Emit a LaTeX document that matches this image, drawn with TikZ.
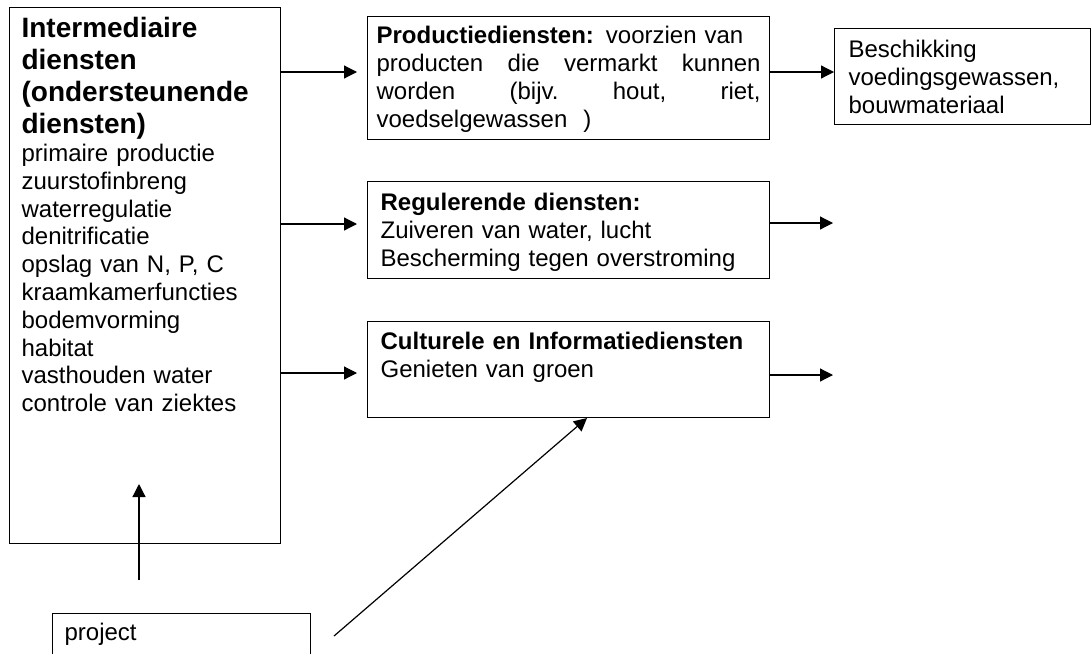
\documentclass[tikz,border=0pt]{standalone}
\usepackage{fontspec}
\setmainfont{Liberation Sans}
\usetikzlibrary{arrows.meta}

\begin{document}
\begin{tikzpicture}[
  x=0.5pt, y=-0.5pt,
  svcbox/.style={draw, line width=0.6pt, anchor=north west, inner ysep=0pt,
                 align=left, font=\fontsize{12}{13.9}\selectfont},
  flow/.style={-{Triangle[length=6.5pt, width=6.5pt]}, line width=0.6pt}
]
\path[use as bounding box, clip] (0,0) rectangle (1091,653);
\node[svcbox, inner xsep=6pt, text width=123.5pt, text height=15pt, text depth=253pt] (inter) at (9,7)
  {{\fontsize{14}{16}\selectfont\bfseries Intermediaire\\ diensten\\ (ondersteunende\\ diensten)\par}
   primaire productie\\ zuurstofinbreng\\ waterregulatie\\ denitrificatie\\ opslag van N, P, C\\
   kraamkamerfuncties\\ bodemvorming\\ habitat\\ vasthouden water\\ controle van ziektes};
\node[svcbox, inner xsep=4.5pt, text width=192pt, text height=13.5pt, text depth=47.75pt] (prod) at (367,16)
  {\textbf{Productiediensten:} voorzien van\\
   \makebox[192pt][s]{producten\hfill die\hfill vermarkt\hfill kunnen}\\
   \makebox[192pt][s]{worden\hfill (bijv.\hfill hout,\hfill riet,}\\
   voedselgewassen~~)};
\node[svcbox, inner xsep=7pt, text width=114pt, text height=14.5pt, text depth=33.5pt] (besch) at (834,28)
  {Beschikking\\ voedingsgewassen,\\ bouwmateriaal};
\node[svcbox, inner xsep=6.5pt, text width=188pt, text height=14.5pt, text depth=34pt] (reg) at (367,181)
  {\textbf{Regulerende diensten:}\\ Zuiveren van water, lucht\\ Bescherming tegen overstroming};
\node[svcbox, inner xsep=6.5pt, text width=188pt, text height=14pt, text depth=34pt] (cult) at (367,321)
  {\textbf{Culturele en Informatiediensten}\\ Genieten van groen};
\node[svcbox, inner xsep=6pt, text width=117pt, text height=13.5pt, text depth=12pt] (proj) at (52,613)
  {project};
\coordinate (prodrow) at (0,72);
\coordinate (regrow)  at (0,224);
\coordinate (cultrow) at (0,373);
\coordinate (regout)  at (833,223);
\coordinate (cultout) at (833,375);
\coordinate (projup)  at (139,580);
\coordinate (interup) at (139,484);
\coordinate (projdiag) at (334,636);
\coordinate (culttip)  at (587,418);
\draw[flow, shorten >=5pt] (inter.east |- prodrow) -- (prod.west |- prodrow);
\draw[flow, shorten >=5pt] (inter.east |- regrow) -- (reg.west |- regrow);
\draw[flow, shorten >=5pt] (inter.east |- cultrow) -- (cult.west |- cultrow);
\draw[flow] (prod.east |- prodrow) -- (besch.west |- prodrow);
\draw[flow] (reg.east |- regout) -- (regout);
\draw[flow] (cult.east |- cultout) -- (cultout);
\draw[flow] (projup) -- (interup);
\draw[flow] (projdiag) -- (culttip);
\end{tikzpicture}
\end{document}
